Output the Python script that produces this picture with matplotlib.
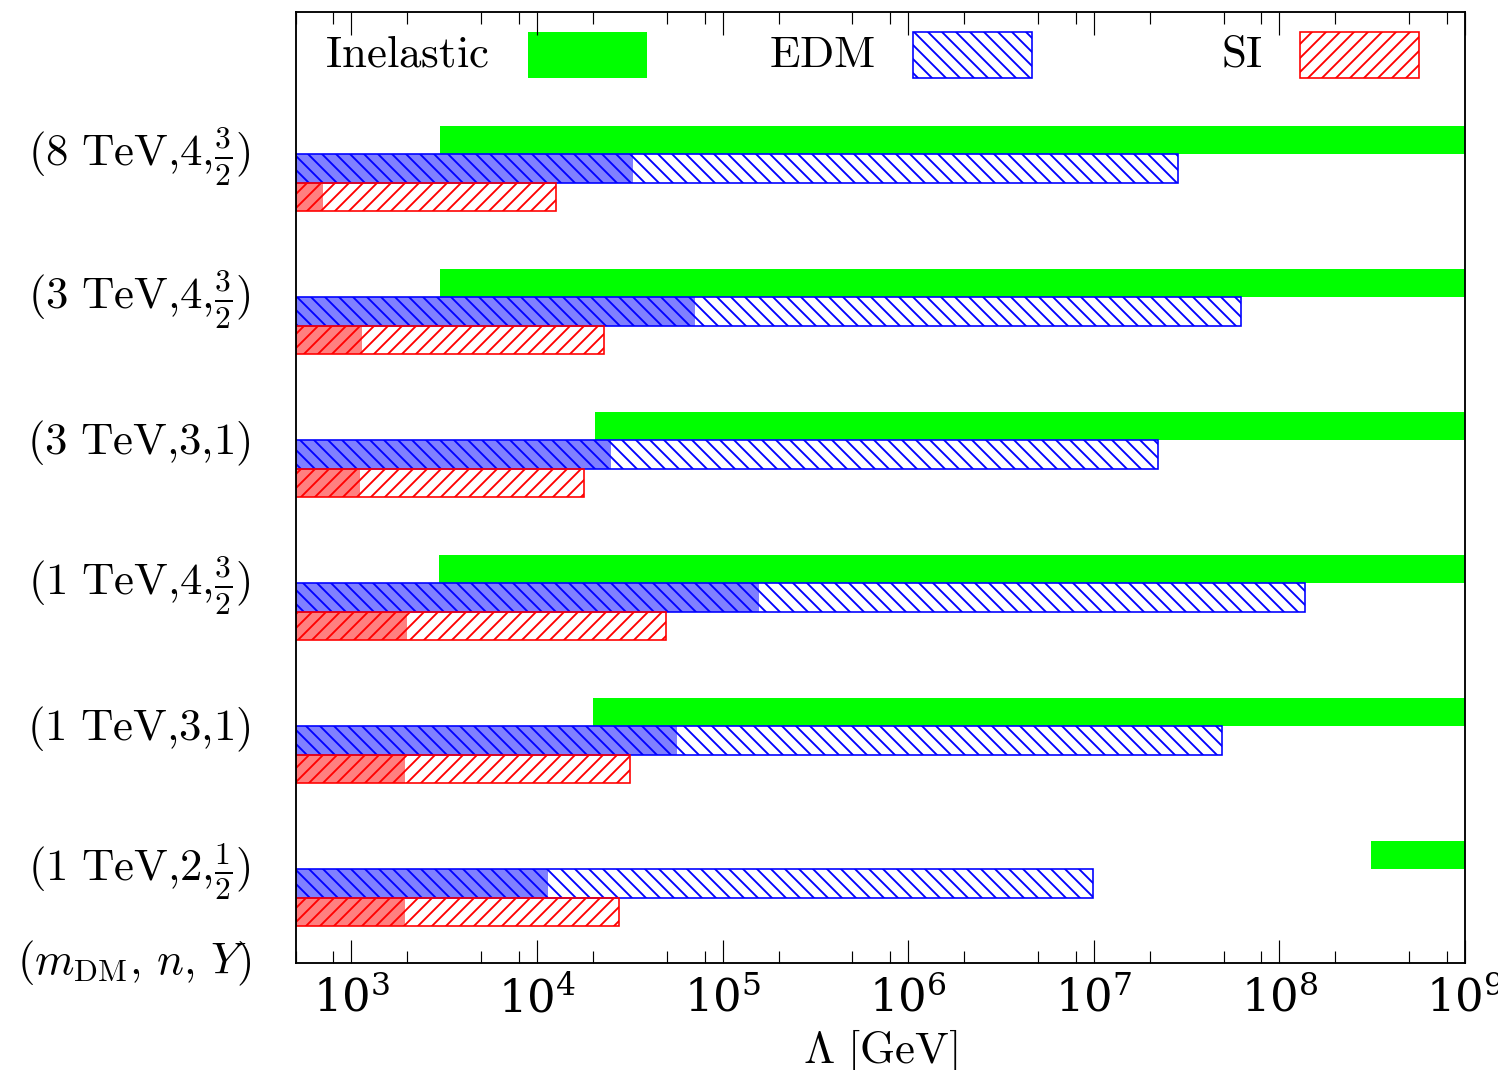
import matplotlib
matplotlib.use("Agg")
import matplotlib.pyplot as plt
from matplotlib.patches import Rectangle
from matplotlib.ticker import LogLocator, NullFormatter

# ---------------- data (rows listed top to bottom) ----------------
row_labels = [r'$(8\ \mathrm{TeV}{,}4{,}\frac{3}{2})$',
              r'$(3\ \mathrm{TeV}{,}4{,}\frac{3}{2})$',
              r'$(3\ \mathrm{TeV}{,}3{,}1)$',
              r'$(1\ \mathrm{TeV}{,}4{,}\frac{3}{2})$',
              r'$(1\ \mathrm{TeV}{,}3{,}1)$',
              r'$(1\ \mathrm{TeV}{,}2{,}\frac{1}{2})$']
axis_row_label = r'$(m_{\mathrm{DM}},\,n,\,Y)$'

inelastic_min = [3.0e3, 3.0e3, 2.05e4, 2.95e3, 2.0e4, 3.1e8]
inelastic_max = [1.0e9, 1.0e9, 1.0e9, 1.0e9, 1.0e9, 1.0e9]
edm_dark = [3.3e4, 7.1e4, 2.5e4, 1.57e5, 5.7e4, 1.15e4]
edm_light = [2.85e7, 6.2e7, 2.23e7, 1.38e8, 4.9e7, 9.9e6]
si_dark = [7.0e2, 1.14e3, 1.11e3, 1.99e3, 1.94e3, 1.94e3]
si_light = [1.27e4, 2.3e4, 1.8e4, 4.95e4, 3.17e4, 2.77e4]

legend_names = [r'$\mathrm{Inelastic}$', r'$\mathrm{EDM}$', r'$\mathrm{SI}$']
x_label = r'$\Lambda\ [\mathrm{GeV}]$'
XMIN, XMAX = 500, 1e9

# ---------------- style ----------------
plt.rcParams['mathtext.fontset'] = 'cm'
plt.rcParams['font.family'] = ['DejaVu Serif']
plt.rcParams['hatch.linewidth'] = 1.6
plt.rcParams['axes.linewidth'] = 1.6

DPI = 84
FS = 38.5
GREEN = (0, 1, 0)
BLUE = (0, 0, 1)
RED = (1, 0, 0)
HATCH_EDM = '\\\\'
HATCH_SI = '//'

fig = plt.figure(figsize=(1498 / DPI, 1070 / DPI), dpi=DPI)
ax = fig.add_axes([0.1973, 0.1, 0.7807, 0.8888])
ax.set_xscale('log')

n = len(row_labels)
pos = [n - i for i in range(n)]  # top row -> n
h = 0.2

for i, k in enumerate(pos):
    # inelastic (green, solid)
    ax.barh(k + h, inelastic_max[i] - inelastic_min[i], left=inelastic_min[i],
            height=h, color=GREEN, edgecolor='none', linewidth=0)
    # EDM
    ax.barh(k, edm_dark[i] - XMIN, left=XMIN, height=h,
            facecolor=(0, 0, 1, 0.5), edgecolor='none', linewidth=0)
    ax.barh(k, edm_light[i] - XMIN, left=XMIN, height=h,
            facecolor='none', edgecolor=BLUE, hatch=HATCH_EDM, linewidth=1.4)
    # SI
    ax.barh(k - h, si_dark[i] - XMIN, left=XMIN, height=h,
            facecolor=(1, 0, 0, 0.5), edgecolor='none', linewidth=0)
    ax.barh(k - h, si_light[i] - XMIN, left=XMIN, height=h,
            facecolor='none', edgecolor=RED, hatch=HATCH_SI, linewidth=1.4)

ylo, yhi = 0.444, 7.094
ax.set_xlim(XMIN, XMAX)
ax.set_ylim(ylo, yhi)

# y labels
ax.set_yticks([k + 0.08 for k in pos] + [ylo], row_labels + [axis_row_label])
for t in ax.get_yticklabels():
    t.set_fontsize(FS)
    t.set_va('center')
ax.tick_params(axis='y', length=0, pad=38)

# x ticks
ax.xaxis.set_major_locator(LogLocator(base=10, numticks=20))
ax.xaxis.set_minor_locator(LogLocator(base=10, subs=[2, 5, 8], numticks=40))
ax.xaxis.set_minor_formatter(NullFormatter())
ax.tick_params(axis='x', which='both', direction='in', top=True, bottom=True,
               labelsize=FS, pad=12, color='black')
ax.tick_params(axis='x', which='major', length=19.5, width=1.0)
ax.tick_params(axis='x', which='minor', length=10.5, width=1.0)
ax.set_xlabel(x_label, fontsize=FS, labelpad=5)

# legend (manual, text then swatch)
text_x = [0.0248, 0.4051, 0.7915]
patch_x = [0.1991, 0.5282, 0.8590]
patch_w = 0.1015
patch_y, patch_h = 0.9303, 0.0490
styles = [dict(facecolor=GREEN, edgecolor='none', linewidth=0),
          dict(facecolor='white', edgecolor=BLUE, hatch=HATCH_EDM, linewidth=1.4),
          dict(facecolor='white', edgecolor=RED, hatch=HATCH_SI, linewidth=1.4)]
for name, tx, px, st in zip(legend_names, text_x, patch_x, styles):
    ax.text(tx, 0.9425, name, transform=ax.transAxes, fontsize=FS,
            ha='left', va='baseline')
    ax.add_patch(Rectangle((px, patch_y), patch_w, patch_h,
                           transform=ax.transAxes, **st))

fig.savefig('out.png', dpi=DPI)
